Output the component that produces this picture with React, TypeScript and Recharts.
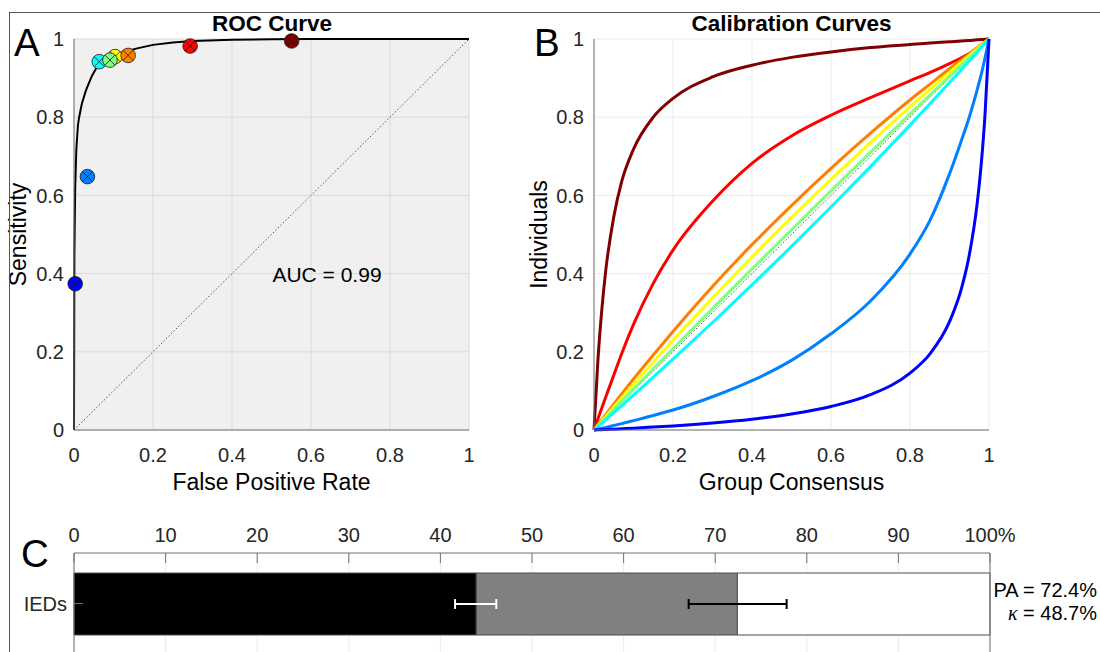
import React from 'react';
import {
  ComposedChart,
  LineChart,
  BarChart,
  Line,
  Scatter,
  Bar,
  ErrorBar,
  XAxis,
  YAxis,
  CartesianGrid,
  ReferenceLine,
} from 'recharts';

// ---------- Panel A: ROC curve ----------
const rocFpr = [0, 0.001, 0.003, 0.006, 0.01, 0.013, 0.02, 0.03, 0.045, 0.06, 0.08, 0.1, 0.13, 0.16, 0.2, 0.25, 0.3, 0.4, 0.5, 0.6, 1];
const rocTpr = [0, 0.45, 0.62, 0.72, 0.78, 0.8, 0.835, 0.868, 0.905, 0.932, 0.948, 0.958, 0.968, 0.976, 0.985, 0.991, 0.995, 0.998, 0.9995, 1, 1];

// operating points (drawn in this order)
const opFpr = [0.003, 0.034, 0.064, 0.104, 0.091, 0.137, 0.294, 0.551];
const opTpr = [0.374, 0.648, 0.942, 0.955, 0.946, 0.958, 0.982, 0.995];
const opColors = ['#0000ff', '#0080ff', '#00ffff', '#ffff00', '#80ff80', '#ff8000', '#ff0000', '#800000'];

const diagX = [0, 1];
const diagY = [0, 1];
const unitTicks = [0, 0.2, 0.4, 0.6, 0.8, 1];

// ---------- Panel B: calibration curves ----------
const calX = [0, 0.01, 0.02, 0.03, 0.05, 0.07, 0.1, 0.15, 0.2, 0.3, 0.4, 0.5, 0.6, 0.7, 0.8, 0.85, 0.9, 0.93, 0.95, 0.97, 0.98, 0.99, 1];
const calDarkRed = [0, 0.18, 0.31, 0.41, 0.545, 0.635, 0.718, 0.8, 0.848, 0.903, 0.933, 0.953, 0.967, 0.978, 0.986, 0.99, 0.993, 0.995, 0.996, 0.998, 0.9985, 0.9993, 1];
const calRed = [0, 0.029, 0.057, 0.085, 0.14, 0.195, 0.27, 0.375, 0.46, 0.585, 0.682, 0.752, 0.805, 0.85, 0.893, 0.914, 0.937, 0.952, 0.963, 0.975, 0.983, 0.991, 1];
const calOrange = [0, 0.0134, 0.0268, 0.0399, 0.0662, 0.0922, 0.1304, 0.192, 0.252, 0.367, 0.474, 0.574, 0.669, 0.759, 0.844, 0.884, 0.924, 0.947, 0.962, 0.978, 0.985, 0.993, 1];
const calYellow = [0, 0.0119, 0.0237, 0.0355, 0.0589, 0.0822, 0.1168, 0.1736, 0.2293, 0.3378, 0.4424, 0.5434, 0.641, 0.7352, 0.8264, 0.8709, 0.9146, 0.9405, 0.9576, 0.9747, 0.9831, 0.9916, 1];
const calGreen = [0, 0.0105, 0.021, 0.0315, 0.0524, 0.0733, 0.1045, 0.1563, 0.2079, 0.3103, 0.4118, 0.5122, 0.6117, 0.7101, 0.8077, 0.8561, 0.9043, 0.9331, 0.9523, 0.9714, 0.981, 0.9905, 1];
const calCyan = [0, 0.0089, 0.0177, 0.0266, 0.0445, 0.0625, 0.0895, 0.1351, 0.1812, 0.275, 0.3711, 0.4695, 0.5704, 0.6737, 0.7797, 0.8337, 0.8885, 0.9216, 0.9439, 0.9662, 0.9775, 0.9887, 1];
const calAzure = [0, 0.0022, 0.0045, 0.0068, 0.0115, 0.0163, 0.024, 0.037, 0.051, 0.085, 0.126, 0.178, 0.246, 0.33, 0.45, 0.535, 0.655, 0.74, 0.8, 0.87, 0.908, 0.952, 1];
const calBlue = [0, 0.0004, 0.0009, 0.0013, 0.0022, 0.0032, 0.0047, 0.0075, 0.0105, 0.0179, 0.0276, 0.0408, 0.06, 0.0903, 0.1455, 0.194, 0.277, 0.361, 0.447, 0.579, 0.676, 0.808, 1];

const calSeries = [
  { key: 'darkRed', color: '#800000', values: calDarkRed },
  { key: 'red', color: '#ff0000', values: calRed },
  { key: 'orange', color: '#ff8000', values: calOrange },
  { key: 'yellow', color: '#ffff00', values: calYellow },
  { key: 'green', color: '#80ff80', values: calGreen },
  { key: 'cyan', color: '#00ffff', values: calCyan },
  { key: 'azure', color: '#0080ff', values: calAzure },
  { key: 'blue', color: '#0000ff', values: calBlue },
];

// ---------- Panel C: agreement bar ----------
const barCategories = ['IEDs'];
const fullAgree = [43.9];
const partialAgree = [28.5];
const noAgree = [27.6];
const errFull = [[2.3, 2.2]];
const errPartial = [[5.3, 5.4]];
const pctTicks = [0, 10, 20, 30, 40, 50, 60, 70, 80, 90, 100];

// ---------- derived tables ----------
const rocData = rocFpr.map((x, i) => ({ x, y: rocTpr[i] }));
const opData = opFpr.map((x, i) => ({ x, y: opTpr[i], color: opColors[i] }));
const calData = calX.map((x, i) => {
  const row: any = { x };
  calSeries.forEach((s) => (row[s.key] = s.values[i]));
  return row;
});
const barData = barCategories.map((name, i) => ({
  name,
  agree: fullAgree[i],
  partial: partialAgree[i],
  none: noAgree[i],
  errA: errFull[i],
  errB: errPartial[i],
}));

const FONT = '"Liberation Sans", Arial, Helvetica, sans-serif';
const TICK_COLOR = '#262626';
const AXIS_COLOR = '#707070';
const tickStyle = { fontSize: 20, fill: TICK_COLOR, fontFamily: FONT };
const labelStyle = { fontSize: 23, fill: '#000', fontFamily: FONT };

const XMarker = (props: any) => {
  const { cx, cy } = props;
  if (cx == null || cy == null) return null;
  const fill = props.payload?.color ?? props.fill;
  const r = 7.3;
  const d = 5.1;
  return (
    <g>
      <circle cx={cx} cy={cy} r={r} fill={fill} stroke="#1a1a1a" strokeWidth={0.8} />
      <line x1={cx - d} y1={cy - d} x2={cx + d} y2={cy + d} stroke="#1a1a1a" strokeWidth={0.8} />
      <line x1={cx - d} y1={cy + d} x2={cx + d} y2={cy - d} stroke="#1a1a1a" strokeWidth={0.8} />
    </g>
  );
};

const pctFmt = (v: number) => (v === 100 ? '100%' : String(v));

export default function App() {
  return (
    <div
      style={{
        position: 'absolute',
        left: 0,
        top: 0,
        width: 1100,
        height: 652,
        overflow: 'hidden',
        background: '#fff',
        fontFamily: FONT,
      }}
    >
      {/* Panel A */}
      <div style={{ position: 'absolute', left: 0, top: 0 }}>
        <ComposedChart width={520} height={520} margin={{ top: 39, right: 51, bottom: 30, left: 14 }}>
          <CartesianGrid fill="#f0f0f0" stroke="#dadada" />
          <XAxis
            type="number"
            dataKey="x"
            domain={[0, 1]}
            ticks={unitTicks}
            interval={0}
            height={60}
            tickLine={false}
            tickSize={12}
            tickMargin={6}
            tick={tickStyle}
            axisLine={{ stroke: AXIS_COLOR }}
            label={{ value: 'False Positive Rate', position: 'insideBottom', offset: 0, style: labelStyle }}
          />
          <YAxis
            type="number"
            domain={[0, 1]}
            ticks={unitTicks}
            interval={0}
            width={60}
            tickLine={false}
            tickSize={6}
            tickMargin={4}
            tick={tickStyle}
            axisLine={{ stroke: AXIS_COLOR }}
            label={{
              value: 'Sensitivity',
              angle: -90,
              position: 'insideLeft',
              offset: 4,
              style: { ...labelStyle, textAnchor: 'middle' },
            }}
          />
          <ReferenceLine
            segment={[
              { x: diagX[0], y: diagY[0] },
              { x: diagX[1], y: diagY[1] },
            ]}
            stroke="#555"
            strokeWidth={1}
            strokeDasharray="1.5 2"
          />
          <Line
            data={rocData}
            dataKey="y"
            type="linear"
            stroke="#000"
            strokeWidth={2}
            dot={false}
            isAnimationActive={false}
          />
          <Scatter data={opData} dataKey="y" shape={XMarker} isAnimationActive={false} />
        </ComposedChart>
      </div>

      {/* Panel B */}
      <div style={{ position: 'absolute', left: 520, top: 0 }}>
        <LineChart width={520} height={520} data={calData} margin={{ top: 39, right: 51, bottom: 30, left: 14 }}>
          <CartesianGrid stroke="#ebebeb" />
          <XAxis
            type="number"
            dataKey="x"
            domain={[0, 1]}
            ticks={unitTicks}
            interval={0}
            height={60}
            tickLine={false}
            tickSize={12}
            tickMargin={6}
            tick={tickStyle}
            axisLine={{ stroke: AXIS_COLOR }}
            label={{ value: 'Group Consensus', position: 'insideBottom', offset: 0, style: labelStyle }}
          />
          <YAxis
            type="number"
            domain={[0, 1]}
            ticks={unitTicks}
            interval={0}
            width={60}
            tickLine={false}
            tickSize={6}
            tickMargin={4}
            tick={tickStyle}
            axisLine={{ stroke: AXIS_COLOR }}
            label={{
              value: 'Individuals',
              angle: -90,
              position: 'insideLeft',
              offset: 5,
              style: { ...labelStyle, textAnchor: 'middle' },
            }}
          />
          <ReferenceLine
            segment={[
              { x: diagX[0], y: diagY[0] },
              { x: diagX[1], y: diagY[1] },
            ]}
            stroke="#555"
            strokeWidth={1}
            strokeDasharray="1.5 2"
          />
          {calSeries.map((s) => (
            <Line
              key={s.key}
              dataKey={s.key}
              type="monotone"
              stroke={s.color}
              strokeWidth={3}
              dot={false}
              isAnimationActive={false}
            />
          ))}
        </LineChart>
      </div>

      {/* Panel C */}
      <div style={{ position: 'absolute', left: 0, top: 500 }}>
        <BarChart
          layout="vertical"
          width={1100}
          height={200}
          data={barData}
          margin={{ top: 13, right: 90, bottom: 16, left: 14 }}
          barSize={62}
          reverseStackOrder
        >
          <CartesianGrid xAxisId="top" yAxisId="left" horizontal={false} stroke="#ebebeb" />
          <XAxis
            xAxisId="top"
            orientation="top"
            type="number"
            domain={[0, 100]}
            ticks={pctTicks}
            interval={0}
            tickFormatter={pctFmt}
            height={40}
            tickSize={-10}
            tickMargin={21}
            tick={tickStyle}
            tickLine={{ stroke: AXIS_COLOR }}
            axisLine={{ stroke: AXIS_COLOR }}
          />
          <XAxis
            xAxisId="bottom"
            orientation="bottom"
            type="number"
            domain={[0, 100]}
            ticks={pctTicks}
            interval={0}
            height={30}
            tickSize={-10}
            tick={false}
            tickLine={{ stroke: AXIS_COLOR }}
            axisLine={{ stroke: AXIS_COLOR }}
          />
          <YAxis
            yAxisId="left"
            type="category"
            dataKey="name"
            width={60}
            tickSize={-9}
            tickMargin={16}
            tick={tickStyle}
            tickLine={{ stroke: AXIS_COLOR }}
            axisLine={{ stroke: AXIS_COLOR }}
          />
          <YAxis
            yAxisId="right"
            orientation="right"
            type="category"
            dataKey="name"
            width={20}
            tickSize={-9}
            tick={false}
            tickLine={{ stroke: AXIS_COLOR }}
            axisLine={{ stroke: AXIS_COLOR }}
          />
          <Bar xAxisId="top" yAxisId="left" dataKey="none" stackId="s" fill="#ffffff" stroke="#4d4d4d" strokeWidth={1} isAnimationActive={false} />
          <Bar xAxisId="top" yAxisId="left" dataKey="partial" stackId="s" fill="#808080" stroke="#4d4d4d" strokeWidth={1} isAnimationActive={false}>
            <ErrorBar dataKey="errB" direction="x" width={5} stroke="#000" strokeWidth={2} isAnimationActive={false} />
          </Bar>
          <Bar xAxisId="top" yAxisId="left" dataKey="agree" stackId="s" fill="#000000" stroke="#4d4d4d" strokeWidth={1} isAnimationActive={false}>
            <ErrorBar dataKey="errA" direction="x" width={5} stroke="#fff" strokeWidth={2} isAnimationActive={false} />
          </Bar>
        </BarChart>
      </div>

      {/* Overlay: frame, panel letters, titles, annotations */}
      <svg
        width={1100}
        height={652}
        style={{ position: 'absolute', left: 0, top: 0, pointerEvents: 'none' }}
        fontFamily={FONT}
      >
        <line x1={9} y1={12.5} x2={1100} y2={12.5} stroke="#555" strokeWidth={1} />
        <line x1={9.5} y1={12} x2={9.5} y2={652} stroke="#555" strokeWidth={1} />
        <text x={14} y={56} fontSize={38.5} fill="#000">A</text>
        <text x={534} y={56} fontSize={38.5} fill="#000">B</text>
        <text x={21} y={567} fontSize={38.5} fill="#000">C</text>
        <text x={272} y={30.5} fontSize={22.5} fontWeight="bold" textAnchor="middle" fill="#000">ROC Curve</text>
        <text x={791.5} y={30.5} fontSize={22.5} fontWeight="bold" textAnchor="middle" fill="#000">Calibration Curves</text>
        <text x={327} y={282} fontSize={21} textAnchor="middle" fill="#000">AUC = 0.99</text>
        <text x={1097} y={596.5} fontSize={20} textAnchor="end" fill="#000">PA = 72.4%</text>
        <text x={1097} y={620} fontSize={20} textAnchor="end" fill="#000">
          <tspan fontStyle="italic" fontFamily='"Liberation Serif", "DejaVu Serif", serif'>κ</tspan>
          <tspan> = 48.7%</tspan>
        </text>
      </svg>
    </div>
  );
}
